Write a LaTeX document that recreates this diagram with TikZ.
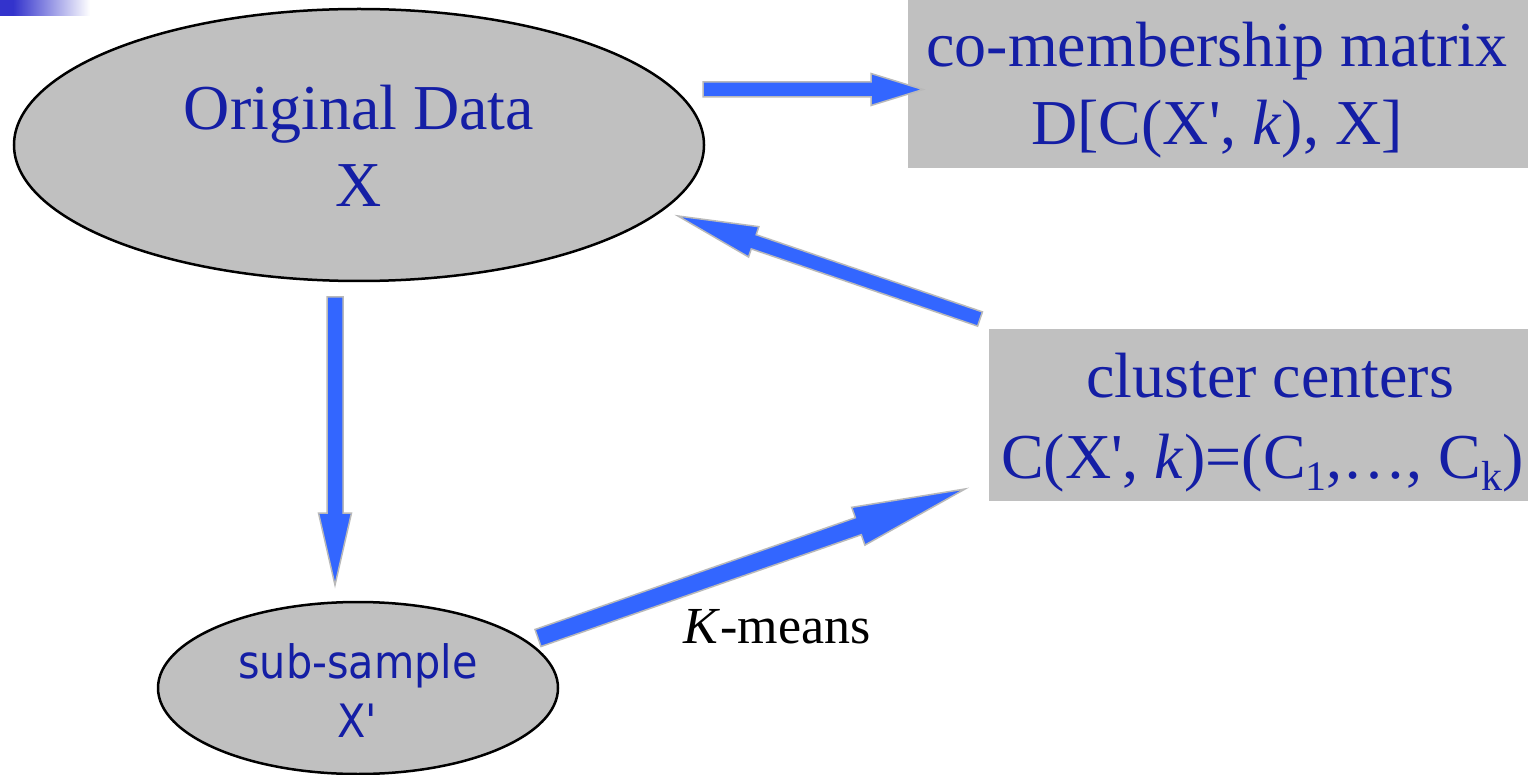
\documentclass[tikz,border=0pt]{standalone}
\usepackage{fontspec}
\setmainfont{Liberation Serif}
\newfontfamily\labelsans[FakeStretch=0.9]{DejaVu Sans}
\usetikzlibrary{calc,shapes.geometric}

\definecolor{txtblue}{RGB}{20,30,165}
\definecolor{boxgray}{RGB}{192,192,192}
\definecolor{arrowblue}{RGB}{51,102,255}
\definecolor{arrowedge}{RGB}{185,185,185}
\definecolor{barblue}{RGB}{51,51,204}

\newcommand\sq{\textquotesingle}
\newcommand\subidx[1]{\raisebox{-12pt}{\fontsize{42}{42}\selectfont #1}}

% block arrow: #1 tail, #2 tip, #3 half shaft width, #4 half head width, #5 head length
\newcommand\blockarrow[5]{%
  \coordinate (ba-base) at ($(#2)!#5!(#1)$);
  \draw[fatarrow]
    ($(#1)!#3!90:(#2)$) -- ($(ba-base)!#3!-90:(#1)$) -- ($(ba-base)!#4!-90:(#1)$)
    -- (#2) -- ($(ba-base)!#4!90:(#1)$) -- ($(ba-base)!#3!90:(#1)$)
    -- ($(#1)!#3!-90:(#2)$) -- cycle;
}

\tikzset{
  blob/.style={ellipse, fill=boxgray, draw=black, line width=2.5pt, inner sep=0pt},
  graybox/.style={rectangle, fill=boxgray, draw=none, inner sep=0pt, anchor=north west},
  serif label/.style={text=txtblue, inner sep=0pt, anchor=base,
    font=\fontsize{64}{77}\selectfont},
  sans label/.style={text=txtblue, inner sep=0pt, anchor=base,
    font=\labelsans\fontsize{46}{55}\selectfont},
  step label/.style={text=black, inner sep=0pt, anchor=base,
    font=\fontsize{52}{62}\selectfont},
  fatarrow/.style={fill=arrowblue, draw=arrowedge, line width=1.5pt, line join=miter},
}

\begin{document}
\begin{tikzpicture}[x=1pt, y=-1pt]
  \useasboundingbox (0,0) rectangle (1528,775);
  \clip (0,0) rectangle (1528,775);
  \fill[white] (0,0) rectangle (1528,775);

  % corner bar
  \fill[barblue] (0,0) rectangle (13,16);
  \shade[left color=barblue, right color=white] (13,0) rectangle (90,16);

  % shapes
  \node[blob, minimum width=690, minimum height=272] (orig) at (359,145) {};
  \node[blob, minimum width=400, minimum height=172] (sub) at (358,688) {};
  \node[graybox, minimum width=620, minimum height=168] (comem) at (908,0) {};
  \node[graybox, minimum width=561, minimum height=172] (centers) at (989,329) {};

  % texts
  \node[serif label] (origA) at (359,130) {Original Data};
  \node[serif label] (origB) at (359,207) {X};
  \node[sans label] (subA) at (358,678) {sub-sample};
  \node[sans label] (subB) at (358,737) {X\sq};
  \node[serif label] (comemA) at (1217,67) {co-membership matrix};
  \node[serif label] (comemB) at (1217,145) {D[C(X\sq, \textit{k}), X]};
  \node[serif label] (centA) at (1270,397) {cluster centers};
  \node[serif label, anchor=base west] (centB) at (1001,478)
    {C(X\sq, \textit{k})=(C\subidx{1},…, C\subidx{k})};
  \node[step label] (kmeans) at (777,643) {\textit{K}-means};

  % arrow ends
  \coordinate (a1s) at (703,89.5);  \coordinate (a1e) at (923,89.5);
  \coordinate (a2s) at (335,297);   \coordinate (a2e) at (335,585);
  \coordinate (a3s) at (980,319);   \coordinate (a3e) at (678,216);
  \coordinate (a4s) at (538,638);   \coordinate (a4e) at (965,489);

  \blockarrow{a1s}{a1e}{7.5pt}{16pt}{52pt}
  \blockarrow{a2s}{a2e}{8pt}{16.5pt}{72pt}
  \blockarrow{a3s}{a3e}{7.5pt}{16pt}{80pt}
  \blockarrow{a4s}{a4e}{9pt}{20pt}{113pt}
\end{tikzpicture}
\end{document}
